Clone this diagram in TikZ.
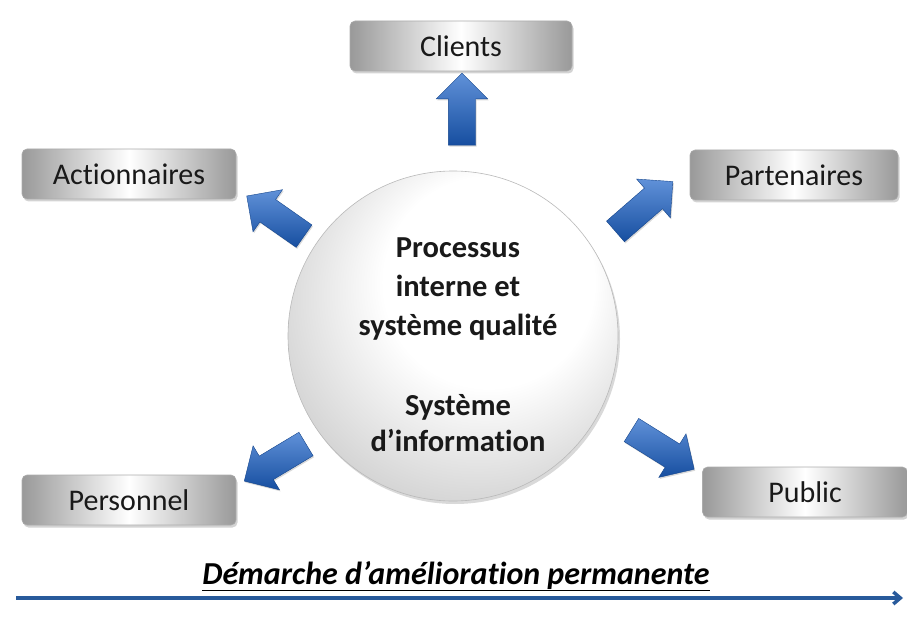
\documentclass[tikz,border=0pt]{standalone}
\usepackage{fontspec}
\setmainfont{Carlito}[Ligatures={NoCommon}]
\usetikzlibrary{shapes.arrows,shadows,arrows.meta}
\definecolor{arrblue}{RGB}{28,98,200}
\definecolor{linecol}{RGB}{40,90,155}
\pgfdeclareradialshading{sphere}{\pgfpoint{8bp}{12bp}}{%
  color(0bp)=(white); color(16bp)=(white); color(38bp)=(black!25); color(50bp)=(black!45)}
\tikzset{
  gbox/.style={rounded corners=5pt, minimum width=#1, minimum height=50pt,
    left color=gray!80, right color=gray!80, middle color=white,
    draw=gray!65, line width=0.6pt,
    drop shadow={shadow xshift=1.5pt, shadow yshift=-2.5pt, opacity=0.35},
    font=\fontsize{30}{32}\selectfont, text=black!90},
  barrow/.style={single arrow, minimum height=#1, inner xsep=0pt, inner ysep=13.5pt,
    single arrow head extend=12pt, single arrow head indent=0pt,
    top color=arrblue!70, bottom color=arrblue!80!black, draw=arrblue!70!black, line width=0.4pt,
    drop shadow={shadow xshift=1pt, shadow yshift=-1.5pt, opacity=0.3}},
}
\begin{document}
\begin{tikzpicture}[x=1pt,y=-1pt]
\useasboundingbox (0,0) rectangle (907,631);
% central sphere
\node[circle, minimum size=330pt, inner sep=0pt, draw=gray!55, line width=0.6pt,
  shading=sphere,
  drop shadow={shadow xshift=2pt, shadow yshift=-3pt, opacity=0.3}] (core) at (453,336) {};
\node[font=\bfseries\fontsize{30.5}{39}\selectfont, align=center, text=black!90] (t1) at (458,289)
  {Processus\\interne et\\système qualité};
\node[font=\bfseries\fontsize{30.5}{36}\selectfont, align=center, text=black!90] (t2) at (458,423)
  {Système\\d’information};
% boxes
\node[gbox=222pt] (clients) at (461,46) {Clients};
\node[gbox=208pt] (part) at (794,175) {Partenaires};
\node[gbox=214pt] (action) at (129,174) {Actionnaires};
\node[gbox=214pt] (perso) at (129,500) {Personnel};
\node[gbox=205pt] (public) at (805,492) {Public};
% arrows
\node[barrow=72pt, rotate=90] (a1) at (462,116) {};
\node[barrow=76pt, rotate=41] (a2) at (639,211) {};
\node[barrow=70pt, rotate=145] (a3) at (281,220) {};
\node[barrow=72pt, rotate=211] (a4) at (281,459) {};
\node[barrow=74pt, rotate=-32] (a5) at (657,446) {};
% bottom
\coordinate (ls) at (16,598);
\coordinate (le) at (903,598);
\draw[linecol, line width=3.5pt, -{Straight Barb[length=7pt,width=12pt]}] (ls) -- (le);
\node[font=\bfseries\itshape\fontsize{32}{34}\selectfont, text=black] (demarche) at (456,576)
  {\underline{Démarche d’amélioration permanente}};
\end{tikzpicture}
\end{document}
